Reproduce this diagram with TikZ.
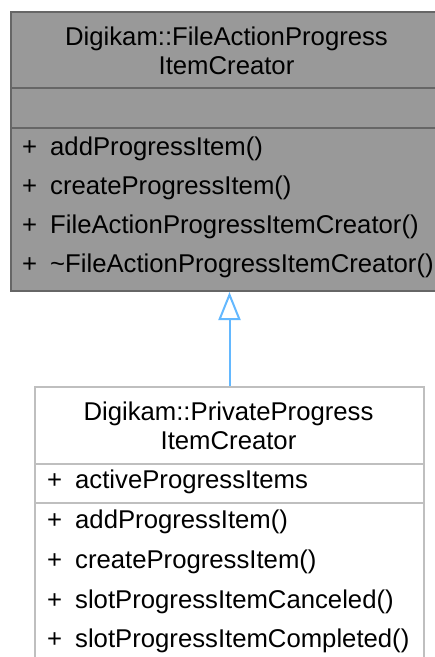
\documentclass[tikz,border=0pt]{standalone}
\usepackage{fontspec}
\setmainfont{Liberation Sans}
\usetikzlibrary{arrows.meta}
\definecolor{basefill}{HTML}{999999}
\definecolor{baseborder}{HTML}{666666}
\definecolor{derivedborder}{HTML}{BFBFBF}
\definecolor{inheritblue}{HTML}{63B8FF}
\begin{document}
\begin{tikzpicture}[
    x=1pt, y=-1pt,
    font=\fontsize{25.7pt}{29pt}\selectfont,
    basebox/.style={draw=baseborder, fill=basefill, line width=2pt, anchor=north west, inner sep=0pt, minimum width=433pt},
    derivedbox/.style={draw=derivedborder, fill=white, line width=2pt, anchor=north west, inner sep=0pt, minimum width=389pt},
    classname/.style={anchor=base, inner sep=0pt},
    member/.style={anchor=base west, inner sep=0pt},
    inherit/.style={draw=inheritblue, line width=2pt, -{Triangle[open, length=28pt, width=22pt]}}
]
    \useasboundingbox (0,0) rectangle (435,657);
    \clip (0,0) rectangle (435,657);

    % base class
    \node[basebox, minimum height=76pt] (baseTitle) at (10,11) {};
    \node[basebox, minimum height=40pt] (baseAttrs) at (10,87) {};
    \node[basebox, minimum height=163pt] (baseMethods) at (10,127) {};
    \node[classname] (baseName1) at (226.5,45) {Digikam::FileActionProgress};
    \node[classname] (baseName2) at (226.5,74) {ItemCreator};
    \node[member] (baseM1) at (22,155) {\makebox[28pt][l]{+}addProgressItem()};
    \node[member] (baseM2) at (22,194) {\makebox[28pt][l]{+}createProgressItem()};
    \node[member] (baseM3) at (22,233) {\makebox[28pt][l]{+}FileActionProgressItemCreator()};
    \node[member] (baseM4) at (22,272) {\makebox[28pt][l]{+}\textasciitilde FileActionProgressItemCreator()};

    % derived class
    \node[derivedbox, minimum height=77pt] (derivedTitle) at (34,386) {};
    \node[derivedbox, minimum height=39pt] (derivedAttrs) at (34,463) {};
    \node[derivedbox, minimum height=200pt] (derivedMethods) at (34,502) {};
    \node[classname] (derivedName1) at (228.5,420) {Digikam::PrivateProgress};
    \node[classname] (derivedName2) at (228.5,449) {ItemCreator};
    \node[member] (derivedA1) at (47,488) {\makebox[28pt][l]{+}activeProgressItems};
    \node[member] (derivedM1) at (47,528) {\makebox[28pt][l]{+}addProgressItem()};
    \node[member] (derivedM2) at (47,568) {\makebox[28pt][l]{+}createProgressItem()};
    \node[member] (derivedM3) at (47,608) {\makebox[28pt][l]{+}slotProgressItemCanceled()};
    \node[member] (derivedM4) at (47,647) {\makebox[28pt][l]{+}slotProgressItemCompleted()};

    % inheritance
    \draw[inherit] (derivedTitle.north) -- (derivedTitle.north |- baseMethods.south);
\end{tikzpicture}
\end{document}
